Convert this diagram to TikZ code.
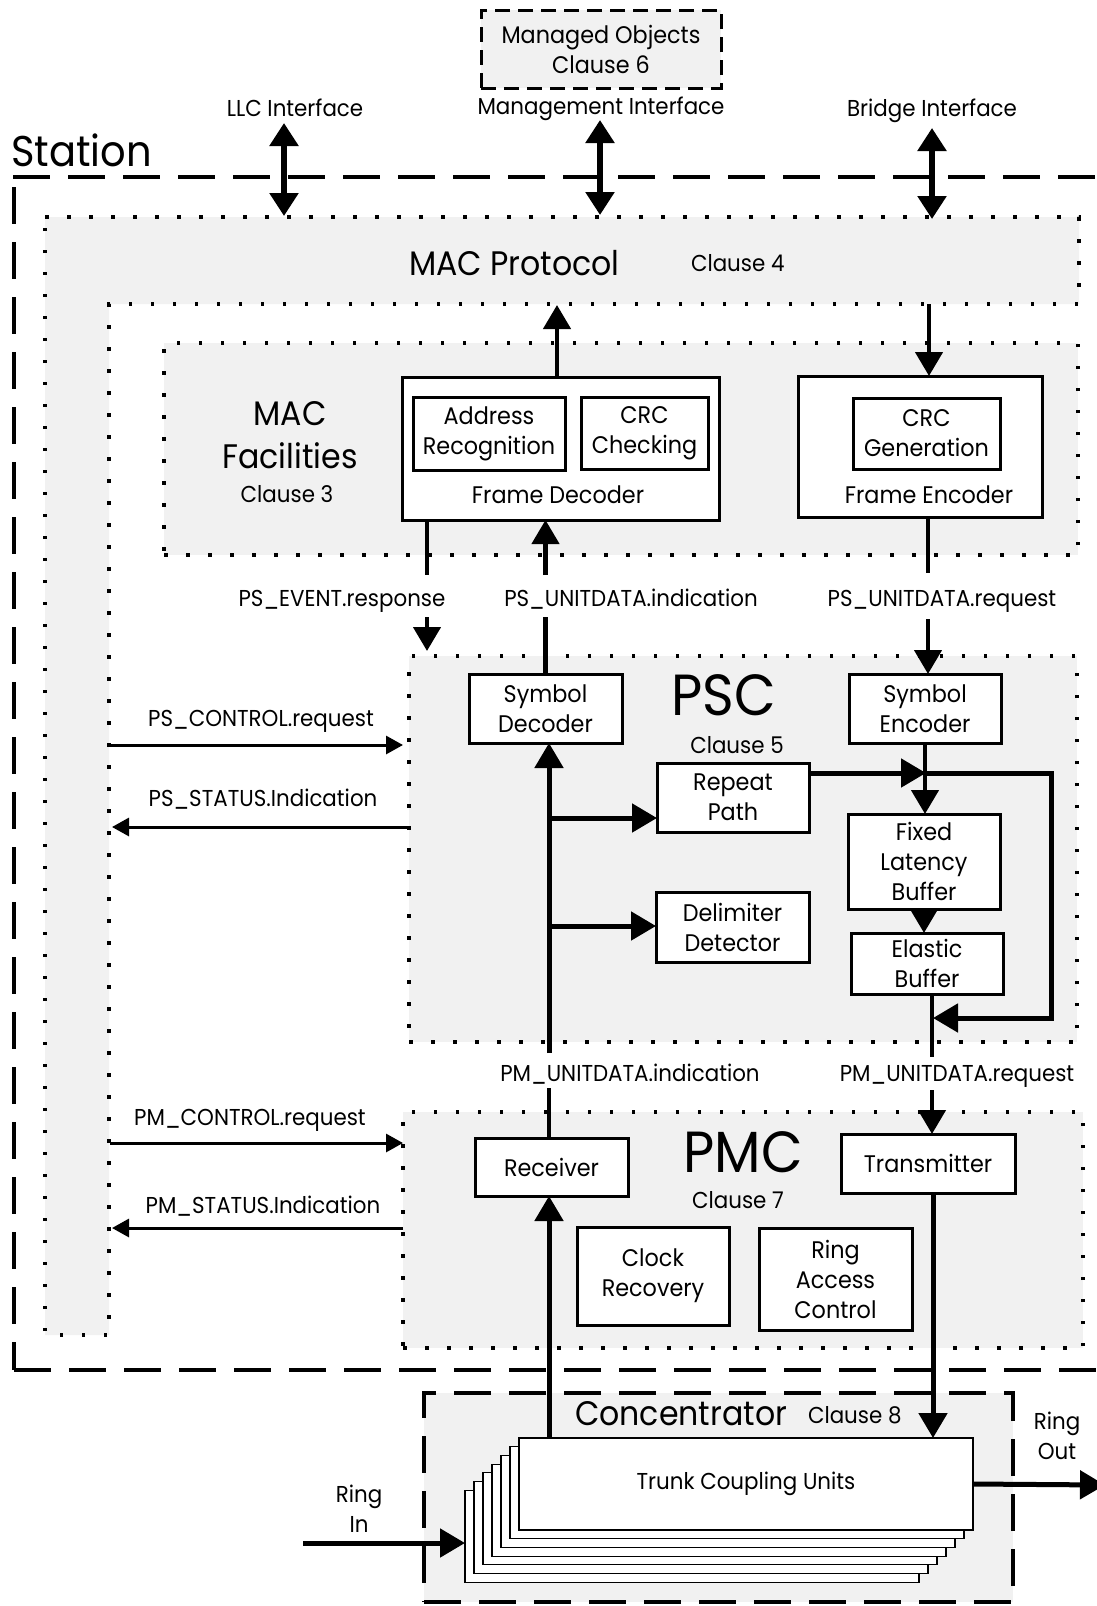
\documentclass[tikz,border=0pt]{standalone}
\usepackage{fontspec}
\setmainfont[FakeStretch=0.93]{Poppins}
\usetikzlibrary{arrows.meta}
\definecolor{regiongray}{RGB}{241,241,241}
\newcommand\fslabel{\fontsize{23}{30}\selectfont}
\newcommand\fsbox{\fontsize{24}{30}\selectfont}
\newcommand\fsstation{\fontsize{43}{50}\selectfont}
\newcommand\fsmid{\fontsize{34}{43}\selectfont}
\newcommand\fsbig{\fontsize{58}{60}\selectfont}
\tikzset{
  every node/.style={font=\fslabel, inner sep=0pt, outer sep=0pt},
  dotline/.style={draw=black, line width=3.5pt, dash pattern=on 3.5pt off 18.5pt},
  region/.style={draw=black, fill=regiongray, line width=3.5pt, dash pattern=on 3.5pt off 18.5pt},
  dashregion/.style={draw=black, fill=regiongray, line width=4pt, dash pattern=on 37pt off 18pt},
  stationline/.style={draw=black, line width=4pt, dash pattern=on 37pt off 18pt},
  mobox/.style={draw=black, fill=regiongray, line width=3pt, dash pattern=on 15pt off 8pt},
  box/.style={draw=black, fill=white, line width=3pt, align=center, font=\fsbox},
  tcubox/.style={draw=black, fill=white, line width=1.2pt},
  bigarrow/.style={line width=5pt, -{Triangle[length=25pt,width=28pt]}},
  medarrow/.style={line width=4.5pt, -{Triangle[length=24pt,width=27pt]}},
  thinarrow/.style={line width=3pt, -{Triangle[length=17pt,width=18pt]}},
  dblarrow/.style={line width=5.5pt, {Triangle[length=23pt,width=28pt]}-{Triangle[length=23pt,width=28pt]}},
  wire/.style={line width=4.5pt},
}
\begin{document}
\begin{tikzpicture}[x=1pt,y=-1pt]
\useasboundingbox (0,0) rectangle (1097,1606);

% ---------- MAC protocol (L-shaped region)
\path[fill=regiongray] (45,217) -- (1079,217) -- (1079,304) -- (109,304) -- (109,1335) -- (45,1335) -- cycle;
\draw[dotline] (45,217) -- (1079,217) -- (1079,304) -- (109,304) -- (109,1335) -- (45,1335) -- cycle;

% ---------- regions
\node[region, minimum width=914pt, minimum height=212pt] (macf) at (621,449) {};
\node[region, minimum width=668pt, minimum height=386pt] (psc) at (743,849) {};
\node[region, minimum width=680pt, minimum height=236pt] (pmc) at (743,1230) {};
\node[dashregion, minimum width=589pt, minimum height=209pt] (conc) at (718.5,1497.5) {};
\node[mobox, minimum width=240pt, minimum height=78pt, align=center, font=\fsbox] (mo) at (601,49) {Managed Objects\\Clause 6};

% ---------- station boundary
\draw[stationline] (13,177) -- (1097,177);
\draw[stationline] (14,187) -- (14,1370);
\draw[stationline] (14,1370) -- (1097,1370);
\node[anchor=base west, font=\fsstation] (station) at (11,166) {Station};

% ---------- interface labels and arrows
\node[anchor=base] (llcl) at (295,116) {LLC Interface};
\node[anchor=base] (mgml) at (601,114) {Management Interface};
\node[anchor=base] (brl) at (932,116) {Bridge Interface};
\coordinate (llctop) at (284,123); \coordinate (llcbot) at (284,216);
\coordinate (mgmtop) at (600,120); \coordinate (mgmbot) at (600,215);
\coordinate (brtop) at (932,128);  \coordinate (brbot) at (932,219);
\draw[dblarrow] (llctop) -- (llcbot);
\draw[dblarrow] (mgmtop) -- (mgmbot);
\draw[dblarrow] (brtop) -- (brbot);

% ---------- MAC protocol / facilities text
\node[anchor=base west, font=\fsmid] (macp) at (409,275) {MAC Protocol};
\node[anchor=base west] (cl4) at (691,271) {Clause 4};
\node[anchor=base, font=\fsmid] (macl) at (290,425) {MAC};
\node[anchor=base, font=\fsmid] (facl) at (290,468) {Facilities};
\node[anchor=base] (cl3) at (287,502) {Clause 3};

% ---------- frame decoder / encoder
\node[box, minimum width=317pt, minimum height=143pt] (fd) at (560.5,448.5) {};
\node[box, minimum width=152pt, minimum height=73pt] (ar) at (489,433.5) {Address\\Recognition};
\node[box, minimum width=127pt, minimum height=72pt] (cc) at (644.5,433) {CRC\\Checking};
\node[anchor=base, font=\fsbox] (fdl) at (558,503) {Frame Decoder};
\node[box, minimum width=244pt, minimum height=141pt] (fe) at (920,446.5) {};
\node[box, minimum width=147pt, minimum height=71pt] (cg) at (926.5,433.5) {CRC\\Generation};
\node[anchor=base, font=\fsbox] (fel) at (929,503) {Frame Encoder};

\coordinate (macbotL) at (557,305);
\coordinate (macbotR) at (929,304);
\draw[medarrow] ([xshift=-3.5pt]fd.north) -- (macbotL);
\draw[medarrow] (macbotR) -- (macbotR |- fe.north);

% ---------- PSC
\node[anchor=base, font=\fsbig] (pscl) at (724,715) {PSC};
\node[anchor=base] (cl5) at (737,753) {Clause 5};
\node[box, minimum width=153pt, minimum height=69pt] (sd) at (545.5,708.5) {Symbol\\Decoder};
\node[box, minimum width=152pt, minimum height=69pt] (se) at (925,708.5) {Symbol\\Encoder};
\node[box, minimum width=152pt, minimum height=69pt] (rp) at (733,797.5) {Repeat\\Path};
\node[box, minimum width=153pt, minimum height=70pt] (dd) at (732.5,927) {Delimiter\\Detector};
\node[box, minimum width=152pt, minimum height=95pt] (flb) at (924,861.5) {Fixed\\Latency\\Buffer};
\node[box, minimum width=152pt, minimum height=61pt] (eb) at (927,963.5) {Elastic\\Buffer};

% ---------- PS service primitives
\node[anchor=base] (psev) at (342,606) {PS\_EVENT.response};
\node[anchor=base] (psui) at (631,606) {PS\_UNITDATA.indication};
\node[anchor=base] (psur) at (942,606) {PS\_UNITDATA.request};
\coordinate (evx) at (427,0);
\draw[wire] (evx |- fd.south) -- (427,575);
\draw[medarrow] (427,617) -- (427,651);
\draw[wire] (sd.north) -- (sd.north |- 0,617);
\draw[medarrow] (sd.north |- 0,575) -- (sd.north |- fd.south);
\coordinate (rqx) at (928,0);
\draw[wire] (rqx |- fe.south) -- (928,573);
\draw[medarrow] (928,619) -- (rqx |- se.north);

% ---------- PSC internal connections
\coordinate (vx) at (549,0);
\draw[bigarrow] (549,1053) -- (vx |- sd.south);
\draw[bigarrow] (549,818) -- (rp.west |- 0,818);
\draw[bigarrow] (549,926) -- (dd.west |- 0,926);
\coordinate (jn) at (926,773);
\draw[bigarrow] (rp.east |- jn) -- (jn);
\draw[bigarrow] (jn) -- (1051,773) -- (1051,1018) -- (933,1018);
\draw[medarrow] (se.south) -- (se.south |- flb.north);
\draw[medarrow] (flb.south) -- (flb.south |- eb.north);
\coordinate (ebx) at (932,0);
\draw[wire] (ebx |- eb.south) -- (932,1057);

% ---------- side service primitives
\node[anchor=base] (psc1) at (261,726) {PS\_CONTROL.request};
\node[anchor=base] (pss1) at (263,806) {PS\_STATUS.Indication};
\node[anchor=base] (pmc1) at (250,1125) {PM\_CONTROL.request};
\node[anchor=base] (pms1) at (263,1213) {PM\_STATUS.Indication};
\draw[thinarrow] (110,745) -- (403,745);
\draw[thinarrow] (407,827) -- (112,827);
\draw[thinarrow] (110,1143) -- (403,1143);
\draw[thinarrow] (403,1228) -- (112,1228);

% ---------- PMC
\node[anchor=base] (pmui) at (630,1081) {PM\_UNITDATA.indication};
\node[anchor=base] (pmur) at (957,1081) {PM\_UNITDATA.request};
\node[anchor=base, font=\fsbig] (pmcl) at (743,1172) {PMC};
\node[anchor=base] (cl7) at (738,1208) {Clause 7};
\node[box, minimum width=153pt, minimum height=58pt] (rx) at (551.5,1167) {Receiver};
\node[box, minimum width=174pt, minimum height=59pt] (tx) at (928,1163.5) {Transmitter};
\node[box, minimum width=152pt, minimum height=98pt] (cr) at (653,1276) {Clock\\Recovery};
\node[box, minimum width=153pt, minimum height=102pt] (rac) at (835.5,1279) {Ring\\Access\\Control};
\draw[wire] (vx |- rx.north) -- (549,1088);
\draw[medarrow] (932,1090) -- (ebx |- tx.north);

% ---------- Concentrator
\node[anchor=base west, font=\fsmid] (concl) at (575,1425) {Concentrator};
\node[anchor=base west] (cl8) at (808,1423) {Clause 8};
\foreach \k in {6,5,4,3,2,1}
  \draw[tcubox] ({519-9*\k},{1438+8.7*\k}) rectangle ({973-9*\k},{1530+8.7*\k});
\node[tcubox, minimum width=454pt, minimum height=92pt] (tcu) at (746,1484) {Trunk Coupling Units};

\coordinate (txx) at (933,0);
\draw[bigarrow] (txx |- tx.south) -- (txx |- tcu.north);
\draw[bigarrow] (vx |- tcu.north) -- (vx |- rx.south);

\node[align=center] (ringin) at (359,1509) {Ring\\In};
\node[align=center] (ringout) at (1057,1436) {Ring\\Out};
\coordinate (rinstart) at (303,1543);
\coordinate (tcuback) at (465,1543);
\coordinate (routend) at (1105,1485);
\draw[bigarrow] (rinstart) -- (tcuback);
\draw[bigarrow] (tcu.east) -- (routend);
\end{tikzpicture}
\end{document}
